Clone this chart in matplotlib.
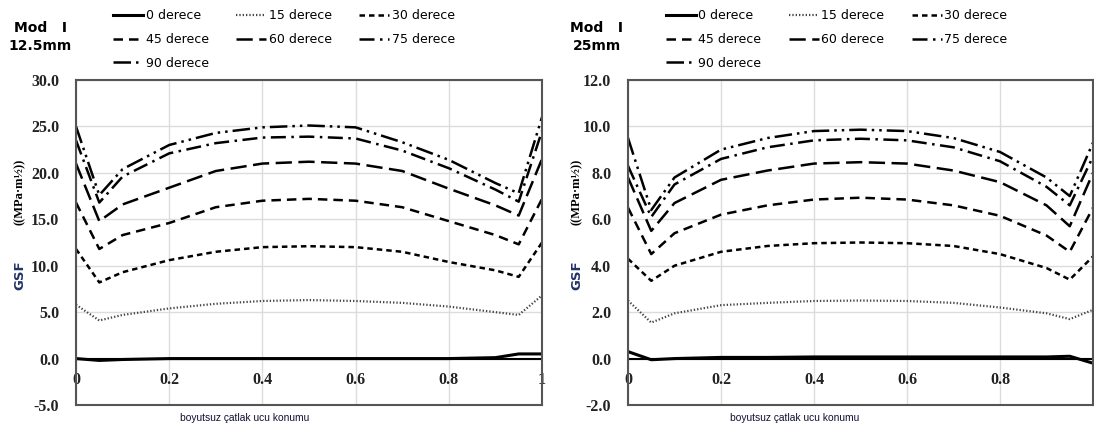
import numpy as np
import matplotlib
matplotlib.use("Agg")
import matplotlib.pyplot as plt

# crack-front position (dimensionless)
pos = [0, 0.05, 0.1, 0.2, 0.3, 0.4, 0.5, 0.6, 0.7, 0.8, 0.9, 0.95, 1.0]
labels = ["0 derece", "15 derece", "30 derece", "45 derece", "60 derece", "75 derece", "90 derece"]

# Mod I, 12.5mm
left_0 = [0.0, -0.2, -0.1, 0.0, 0.0, 0.0, 0.0, 0.0, 0.0, 0.0, 0.1, 0.5, 0.5]
left_15 = [5.8, 4.1, 4.7, 5.4, 5.9, 6.2, 6.3, 6.2, 6.0, 5.6, 5.0, 4.7, 6.8]
left_30 = [11.8, 8.2, 9.3, 10.6, 11.5, 12.0, 12.1, 12.0, 11.5, 10.4, 9.5, 8.8, 12.5]
left_45 = [16.8, 11.8, 13.3, 14.6, 16.3, 17.0, 17.2, 17.0, 16.3, 14.8, 13.3, 12.3, 17.2]
left_60 = [21.0, 14.8, 16.6, 18.4, 20.2, 21.0, 21.2, 21.0, 20.2, 18.3, 16.5, 15.4, 21.5]
left_75 = [23.5, 16.8, 19.6, 22.1, 23.2, 23.8, 23.9, 23.7, 22.4, 20.5, 18.2, 16.9, 24.5]
left_90 = [25.0, 17.6, 20.4, 23.0, 24.3, 24.9, 25.1, 24.9, 23.3, 21.4, 18.9, 17.8, 26.0]

# Mod I, 25mm
right_0 = [0.3, -0.05, 0.0, 0.05, 0.05, 0.07, 0.07, 0.07, 0.07, 0.07, 0.07, 0.1, -0.2]
right_15 = [2.5, 1.55, 1.95, 2.3, 2.4, 2.48, 2.5, 2.48, 2.4, 2.2, 1.95, 1.7, 2.1]
right_30 = [4.3, 3.35, 4.0, 4.6, 4.85, 4.97, 5.0, 4.97, 4.85, 4.5, 3.9, 3.4, 4.4]
right_45 = [6.5, 4.5, 5.4, 6.2, 6.6, 6.85, 6.93, 6.85, 6.6, 6.15, 5.3, 4.6, 6.5]
right_60 = [7.8, 5.5, 6.7, 7.7, 8.1, 8.4, 8.46, 8.4, 8.1, 7.6, 6.6, 5.7, 8.0]
right_75 = [8.3, 6.1, 7.5, 8.6, 9.1, 9.4, 9.47, 9.4, 9.1, 8.5, 7.4, 6.6, 8.7]
right_90 = [9.5, 6.4, 7.8, 9.0, 9.5, 9.8, 9.86, 9.8, 9.5, 8.9, 7.8, 7.0, 9.3]

styles = [
    dict(ls="-", lw=2.2, color="black"),
    dict(ls=(0, (0.6, 0.9)), lw=1.6, color="#444444"),
    dict(ls=(0, (2.2, 1.6)), lw=1.8, color="black"),
    dict(ls=(0, (3.8, 2.4)), lw=1.8, color="black"),
    dict(ls=(0, (6.5, 2.6)), lw=1.8, color="black"),
    dict(ls=(0, (6, 2.2, 1, 2.2)), lw=1.8, color="black"),
    dict(ls=(0, (7, 2, 1, 2, 1, 2)), lw=1.8, color="black"),
]

fig = plt.figure(figsize=(10.94, 4.32), dpi=100)


def panel(rect, series, ymin, ymax, ystep, title2, txt_x, xlabels, leg_x):
    ax = fig.add_axes(rect)
    lines = []
    for vals, st in zip(series, styles):
        l, = ax.plot(pos, vals, **st)
        lines.append(l)
    ax.set_xlim(0, 1)
    ax.set_ylim(ymin, ymax)
    ax.set_xticks([0, 0.2, 0.4, 0.6, 0.8, 1.0])
    ax.set_xticklabels(xlabels)
    yt = np.arange(ymin, ymax + ystep / 2, ystep)
    ax.set_yticks(yt)
    ax.set_yticklabels(["%.1f" % v for v in yt])
    ax.grid(True, color="#dcdcdc", lw=1)
    ax.set_axisbelow(True)
    ax.axhline(0, color="black", lw=1.5, zorder=1)
    for s in ax.spines.values():
        s.set_color("#555555")
        s.set_linewidth(1.5)
    ax.tick_params(axis="x", length=0, pad=-24)
    ax.tick_params(axis="y", length=0, pad=12)
    for t in ax.get_xticklabels() + ax.get_yticklabels():
        t.set_fontfamily("Liberation Serif")
        t.set_fontweight("bold")
        t.set_fontsize(11.5)
        t.set_color("#222222")
    order = [0, 3, 6, 1, 4, 2, 5]
    ax.legend([lines[i] for i in order], [labels[i] for i in order],
              ncol=3, loc="upper left", frameon=False,
              bbox_to_anchor=(leg_x, 0.99), bbox_transform=fig.transFigure,
              prop={"family": "DejaVu Sans", "size": 9},
              handlelength=2.4, handletextpad=0.2, columnspacing=2.2,
              labelspacing=0.85, borderaxespad=0)
    fig.text(txt_x, 0.935, "Mod   I", ha="center", va="center",
             fontsize=10, fontweight="bold", family="DejaVu Sans")
    fig.text(txt_x, 0.893, title2, ha="center", va="center",
             fontsize=10, fontweight="bold", family="DejaVu Sans")
    return ax


ax1 = panel([76 / 1094, 27 / 432, 466 / 1094, 325 / 432],
            [left_0, left_15, left_30, left_45, left_60, left_75, left_90],
            -5.0, 30.0, 5.0, "12.5mm", 40 / 1094,
            ["0", "0.2", "0.4", "0.6", "0.8", "1"], 0.099)
ax2 = panel([628 / 1094, 27 / 432, 465 / 1094, 325 / 432],
            [right_0, right_15, right_30, right_45, right_60, right_75, right_90],
            -2.0, 12.0, 2.0, "25mm", 597 / 1094,
            ["0", "0.2", "0.4", "0.6", "0.8", ""], 0.604)

for xc, xt in [(20 / 1094, 245 / 1094), (577 / 1094, 795 / 1094)]:
    fig.text(xc, 1 - 275 / 432, "GSF", rotation=90, ha="center", va="center",
             fontsize=9.5, fontweight="bold", family="DejaVu Sans", color="#223366")
    fig.text(xc, 1 - 192 / 432, "((MPa·m½))", rotation=90, ha="center", va="center",
             fontsize=9, fontweight="bold", family="Liberation Serif")
    fig.text(xt, 1 - 418 / 432, "boyutsuz çatlak ucu konumu", ha="center", va="center",
             fontsize=7.4, family="Liberation Sans", color="#111133")

fig.savefig("out.png", dpi=100)
